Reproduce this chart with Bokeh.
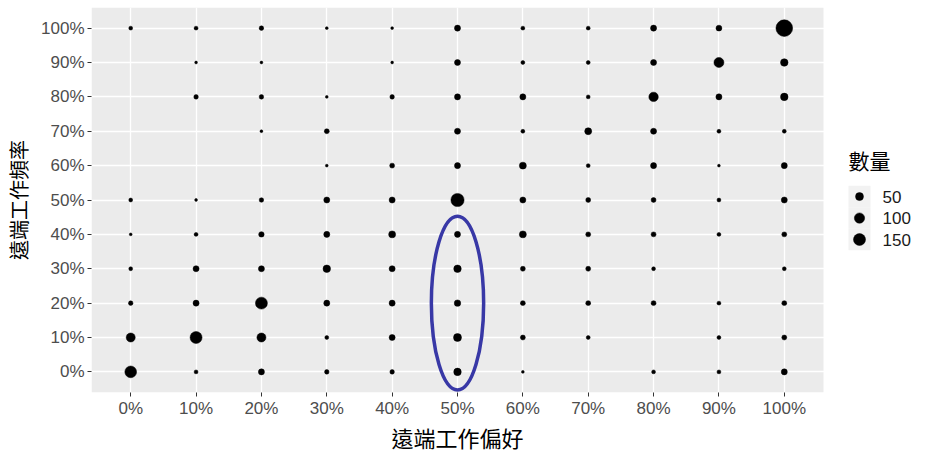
import numpy as np
import pandas as pd
from bokeh.plotting import figure
from bokeh.models import FixedTicker, ColumnDataSource, Title, BoxAnnotation
from bokeh.embed import file_html
from bokeh.resources import INLINE
from bokeh.core.properties import value

# ---------------- data ----------------
x_labels = ["0%", "10%", "20%", "30%", "40%", "50%", "60%", "70%", "80%", "90%", "100%"]
y_labels = ["0%", "10%", "20%", "30%", "40%", "50%", "60%", "70%", "80%", "90%", "100%"]
x_title = "遠端工作偏好"
y_title = "遠端工作頻率"
legend_title = "數量"
legend_breaks = [50, 100, 150]

# counts (數量) for each 遠端工作頻率 row, columns = 遠端工作偏好 0%..100%; 0 = no point
n_y100 = [6, 6, 9, 4, 4, 22, 6, 6, 22, 20, 334]
n_y90 = [0, 4, 4, 0, 4, 22, 6, 6, 22, 92, 42]
n_y80 = [0, 9, 9, 4, 9, 22, 22, 6, 80, 22, 42]
n_y70 = [0, 0, 4, 12, 0, 22, 6, 34, 22, 6, 6]
n_y60 = [0, 0, 0, 4, 12, 22, 34, 6, 22, 4, 22]
n_y50 = [6, 4, 9, 22, 22, 190, 22, 12, 12, 6, 22]
n_y40 = [4, 6, 16, 22, 34, 22, 34, 12, 12, 6, 12]
n_y30 = [6, 22, 22, 42, 22, 42, 12, 12, 6, 0, 6]
n_y20 = [9, 22, 148, 22, 22, 27, 12, 12, 12, 6, 12]
n_y10 = [70, 148, 70, 6, 22, 50, 12, 6, 0, 6, 12]
n_y0 = [140, 6, 22, 9, 9, 42, 4, 0, 6, 6, 22]

rows_by_y = [n_y0, n_y10, n_y20, n_y30, n_y40, n_y50, n_y60, n_y70, n_y80, n_y90, n_y100]

# highlight ellipse (annotation) around 遠端工作偏好 = 50%, 頻率 0%-40%
ell_x, ell_y, ell_w, ell_h = 5.0, 2.0, 0.8, 5.05

# ---------------- size scale (ggplot-like area scale) ----------------
D_MIN, D_MAX = 2.8, 16.7

recs = []
for yi, r in enumerate(rows_by_y):
    for xi, n in enumerate(r):
        if n > 0:
            recs.append((xi, yi, n))
df = pd.DataFrame(recs, columns=["xi", "yi", "n"])
vmin, vmax = df["n"].min(), df["n"].max()


def size_of(v):
    v = np.asarray(v, dtype=float)
    return D_MIN + (D_MAX - D_MIN) * np.sqrt((v - vmin) / (vmax - vmin))


df["d"] = size_of(df["n"])
src = ColumnDataSource(df)

TICK_FONT = "Liberation Sans"
CJK_FONT = "Noto Sans CJK TC"

# ---------------- geometry ----------------
W, H = 930, 454
LEFT = 91                     # room for y tick labels + title
TOP = 7
PANEL_W = 732                 # grey panel width in px
LO, HI = -0.6, 10.6           # panel limits (category index units)
PX = PANEL_W / (HI - LO)      # px per category step
FRAME_W = W - LEFT
X_END = LO + FRAME_W / PX     # frame extends right to hold the legend


def px_to_x(px_from_panel_left):
    return LO + px_from_panel_left / PX


p = figure(width=W, height=H, x_range=(LO, X_END), y_range=(LO, HI),
           output_backend="svg", toolbar_location=None,
           min_border_left=LEFT, min_border_right=0, min_border_top=TOP, min_border_bottom=0)
p.background_fill_color = "white"
p.border_fill_color = "white"
p.outline_line_color = None

# grey plotting panel, drawn beneath the grid lines
p.add_layout(BoxAnnotation(left=LO, right=HI, bottom=LO, top=HI, fill_color="#EBEBEB",
                           fill_alpha=1.0, line_color=None, level="image"))

for ax, labs in ((p.xaxis[0], x_labels), (p.yaxis[0], y_labels)):
    ax.ticker = FixedTicker(ticks=list(range(len(labs))), minor_ticks=[])
    ax.major_label_overrides = {i: l for i, l in enumerate(labs)}
    ax.axis_line_color = None
    ax.major_tick_line_color = "#333333"
    ax.major_tick_line_width = 1
    ax.major_tick_out = 4
    ax.major_tick_in = 0
    ax.minor_tick_line_color = None
    ax.major_label_text_font = TICK_FONT
    ax.major_label_text_font_size = "17px"
    ax.major_label_text_color = "#4D4D4D"
    ax.major_label_standoff = 3
    ax.axis_label_text_font = CJK_FONT
    ax.axis_label_text_font_style = "normal"
    ax.axis_label_text_color = "black"

p.xaxis.major_label_standoff = 2
p.yaxis.axis_label = y_title
p.yaxis.axis_label_text_font_size = "20px"
p.yaxis.axis_label_standoff = 5

p.xgrid.grid_line_color = "white"
p.ygrid.grid_line_color = "white"
p.xgrid.grid_line_width = 1.3
p.ygrid.grid_line_width = 1.3

# x axis title, centred under the grey panel
XT_FONT = 22
p.add_layout(Title(text=x_title, align="left",
                   offset=PANEL_W / 2 - len(x_title) * XT_FONT / 2,
                   text_font=CJK_FONT, text_font_size=f"{XT_FONT}px",
                   text_font_style="normal", text_color="black", standoff=0,
                   vertical_align="top"), "below")

p.scatter(x="xi", y="yi", size="d", marker="circle", fill_color="black",
          line_color="black", line_width=0.5, source=src)

p.ellipse(x=ell_x, y=ell_y, width=ell_w, height=ell_h, fill_color=None,
          line_color="#3838A6", line_width=3.5)

# ---------------- legend (to the right of the panel) ----------------
key_x = px_to_x(PANEL_W + 36)
key_w = 22 / PX
key_y0, key_h = 5.10, 0.625
leg = pd.DataFrame({"n": legend_breaks})
leg["ky"] = key_y0 - key_h * np.arange(len(leg))
leg["kx"] = key_x
leg["d"] = size_of(leg["n"])
leg["lab"] = [str(b) for b in legend_breaks]
leg["lx"] = px_to_x(PANEL_W + 59)
lsrc = ColumnDataSource(leg)

p.rect(x="kx", y="ky", width=key_w, height=key_h, fill_color="#F2F2F2",
       line_color=None, source=lsrc)
p.scatter(x="kx", y="ky", size="d", marker="circle", fill_color="black",
          line_color="black", line_width=0.5, source=lsrc)
p.text(x="lx", y="ky", text="lab", text_font=value(TICK_FONT), text_font_size="17px",
       text_color="#1A1A1A", text_baseline="middle", text_align="left", source=lsrc)
p.text(x=[px_to_x(PANEL_W + 25)], y=[6.17], text=[legend_title], text_font=value(CJK_FONT),
       text_font_size="21px", text_color="black", text_baseline="middle", text_align="left")

open("out.html", "w").write(file_html(p, INLINE))
